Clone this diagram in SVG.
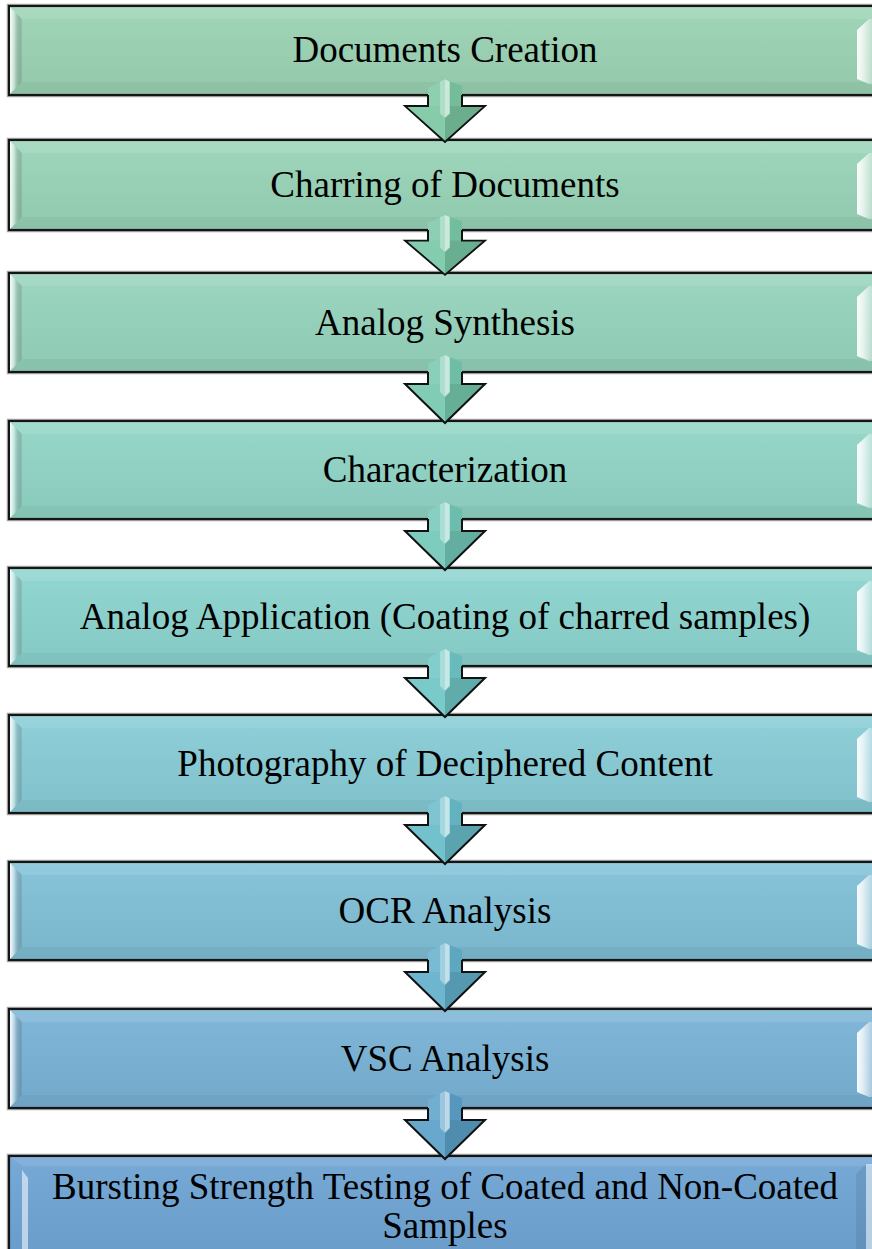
<svg xmlns="http://www.w3.org/2000/svg" xmlns:xlink="http://www.w3.org/1999/xlink" width="872" height="1249" viewBox="0 0 872 1249">
<style>
.box{stroke:#151515;stroke-width:2.2}
.halo{fill:none;stroke:#a8a8a8;stroke-width:4.5}
.shade{fill:url(#gface)}
.bt{fill:#ffffff;fill-opacity:0.1}
.bb{fill:#000000;fill-opacity:0.04}
.bl{fill:url(#gl)}
.br{fill:url(#gr)}
.lbl{font-family:"Liberation Serif","Times New Roman",serif;font-size:37px;fill:#000;text-anchor:middle}
.ol{fill:none;stroke:#111;stroke-width:2;stroke-linejoin:miter}
</style>
<defs>
<linearGradient id="gface" x1="0" y1="0" x2="0" y2="1">
<stop offset="0" stop-color="#fff" stop-opacity="0.06"/>
<stop offset="1" stop-color="#000" stop-opacity="0.05"/>
</linearGradient>
<linearGradient id="gl" x1="0" y1="0" x2="1" y2="0">
<stop offset="0" stop-color="#fff" stop-opacity="0.95"/>
<stop offset="0.35" stop-color="#fff" stop-opacity="0.45"/>
<stop offset="1" stop-color="#000" stop-opacity="0.08"/>
</linearGradient>
<linearGradient id="gr" x1="0" y1="0" x2="1" y2="0">
<stop offset="0" stop-color="#fff" stop-opacity="0.95"/>
<stop offset="0.35" stop-color="#fff" stop-opacity="0.8"/>
<stop offset="1" stop-color="#fff" stop-opacity="0.35"/>
</linearGradient>
<g id="arrow">
<polygon points="428,-8 445,-17 462,-10 462,13 428,13" fill="currentColor"/>
<polygon points="405,12 445,51 485,12" fill="currentColor"/>
<polygon points="428,-8 440,-14.5 440,12 428,12" fill="#fff" fill-opacity="0.14"/>
<polygon points="440,-14.5 445,-17 450,-14.5 450,20 445,25 440,20" fill="#fff" fill-opacity="0.4"/>
<polygon points="445,-17 449,-15 449,20 445,24" fill="#fff" fill-opacity="0.35"/>
<polygon points="450,-14.5 462,-10 462,12 450,12" fill="#000" fill-opacity="0.05"/>
<polygon points="450,12 485,12 445,51 445,25 450,20" fill="#000" fill-opacity="0.13"/>
<polygon points="405,12 440,12 440,20 445,25 445,51" fill="#fff" fill-opacity="0.08"/>
<path class="ol" d="M428,0 V12 H405 L445,51 L485,12 H462 V0"/>
</g>
</defs>
<rect width="872" height="1249" fill="#fff"/>

<g id="n1">
<rect class="halo" x="9" y="6" width="875" height="89"/>
<rect class="box" x="9" y="6" width="875" height="89" fill="#9bd3b4"/>
<rect class="shade" x="10" y="7" width="874" height="87"/>
<polygon class="bt" points="10,7 884,7 884,19 22,19"/>
<polygon class="bb" points="10,94 22,82 884,82 884,94"/>
<polygon class="bl" points="10,7 22,19 22,82 10,94"/>
<polygon class="br" points="857,30 869,19 872,19 872,84 869,84 857,79"/>
<text class="lbl" x="445" y="62">Documents Creation</text>
</g>
<g id="n2">
<rect class="halo" x="9" y="140" width="875" height="90"/>
<rect class="box" x="9" y="140" width="875" height="90" fill="#99d4b8"/>
<rect class="shade" x="10" y="141" width="874" height="88"/>
<polygon class="bt" points="10,141 884,141 884,153 22,153"/>
<polygon class="bb" points="10,229 22,217 884,217 884,229"/>
<polygon class="bl" points="10,141 22,153 22,217 10,229"/>
<polygon class="br" points="857,164 869,153 872,153 872,219 869,219 857,214"/>
<text class="lbl" x="445" y="197">Charring of Documents</text>
</g>
<g id="n3">
<rect class="halo" x="9" y="273" width="875" height="99"/>
<rect class="box" x="9" y="273" width="875" height="99" fill="#96d4bd"/>
<rect class="shade" x="10" y="274" width="874" height="97"/>
<polygon class="bt" points="10,274 884,274 884,286 22,286"/>
<polygon class="bb" points="10,371 22,359 884,359 884,371"/>
<polygon class="bl" points="10,274 22,286 22,359 10,371"/>
<polygon class="br" points="857,297 869,286 872,286 872,361 869,361 857,356"/>
<text class="lbl" x="445" y="335">Analog Synthesis</text>
</g>
<g id="n4">
<rect class="halo" x="9" y="421" width="875" height="98"/>
<rect class="box" x="9" y="421" width="875" height="98" fill="#91d5c6"/>
<rect class="shade" x="10" y="422" width="874" height="96"/>
<polygon class="bt" points="10,422 884,422 884,434 22,434"/>
<polygon class="bb" points="10,518 22,506 884,506 884,518"/>
<polygon class="bl" points="10,422 22,434 22,506 10,518"/>
<polygon class="br" points="857,445 869,434 872,434 872,508 869,508 857,503"/>
<text class="lbl" x="445" y="482">Characterization</text>
</g>
<g id="n5">
<rect class="halo" x="9" y="568" width="875" height="98"/>
<rect class="box" x="9" y="568" width="875" height="98" fill="#8cd4cf"/>
<rect class="shade" x="10" y="569" width="874" height="96"/>
<polygon class="bt" points="10,569 884,569 884,581 22,581"/>
<polygon class="bb" points="10,665 22,653 884,653 884,665"/>
<polygon class="bl" points="10,569 22,581 22,653 10,665"/>
<polygon class="br" points="857,592 869,581 872,581 872,655 869,655 857,650"/>
<text class="lbl" x="445" y="629">Analog Application (Coating of charred samples)</text>
</g>
<g id="n6">
<rect class="halo" x="9" y="715" width="875" height="98"/>
<rect class="box" x="9" y="715" width="875" height="98" fill="#87ccd6"/>
<rect class="shade" x="10" y="716" width="874" height="96"/>
<polygon class="bt" points="10,716 884,716 884,728 22,728"/>
<polygon class="bb" points="10,812 22,800 884,800 884,812"/>
<polygon class="bl" points="10,716 22,728 22,800 10,812"/>
<polygon class="br" points="857,739 869,728 872,728 872,802 869,802 857,797"/>
<text class="lbl" x="445" y="776">Photography of Deciphered Content</text>
</g>
<g id="n7">
<rect class="halo" x="9" y="862" width="875" height="98"/>
<rect class="box" x="9" y="862" width="875" height="98" fill="#80c0d7"/>
<rect class="shade" x="10" y="863" width="874" height="96"/>
<polygon class="bt" points="10,863 884,863 884,875 22,875"/>
<polygon class="bb" points="10,959 22,947 884,947 884,959"/>
<polygon class="bl" points="10,863 22,875 22,947 10,959"/>
<polygon class="br" points="857,886 869,875 872,875 872,949 869,949 857,944"/>
<text class="lbl" x="445" y="923">OCR Analysis</text>
</g>
<g id="n8">
<rect class="halo" x="9" y="1009" width="875" height="99"/>
<rect class="box" x="9" y="1009" width="875" height="99" fill="#79b3d6"/>
<rect class="shade" x="10" y="1010" width="874" height="97"/>
<polygon class="bt" points="10,1010 884,1010 884,1022 22,1022"/>
<polygon class="bb" points="10,1107 22,1095 884,1095 884,1107"/>
<polygon class="bl" points="10,1010 22,1022 22,1095 10,1107"/>
<polygon class="br" points="857,1033 869,1022 872,1022 872,1097 869,1097 857,1092"/>
<text class="lbl" x="445" y="1071">VSC Analysis</text>
</g>
<g id="n9">
<rect class="halo" x="9" y="1156" width="875" height="110"/>
<rect class="box" x="9" y="1156" width="875" height="110" fill="#6ea4d3"/>
<rect class="shade" x="10" y="1157" width="874" height="108"/>
<polygon class="bt" points="10,1157 884,1157 884,1166 22,1166"/>
<polygon points="22,1170 28,1178 28,1262 22,1262" fill="#fff" fill-opacity="0.55"/>
<polygon points="856,1174 866,1164 866,1262 856,1262" fill="#000" fill-opacity="0.08"/>
<polygon points="866,1164 872,1164 872,1262 866,1262" fill="#fff" fill-opacity="0.5"/>
<text class="lbl" x="445" y="1199">Bursting Strength Testing of Coated and Non-Coated</text>
<text class="lbl" x="445" y="1238">Samples</text>
</g>

<g id="connectors">
<use xlink:href="#arrow" href="#arrow" transform="translate(0,95) scale(1,0.92)" color="#7cc7a3"/>
<use xlink:href="#arrow" href="#arrow" transform="translate(0,230) scale(1,0.88)" color="#7ac8a8"/>
<use xlink:href="#arrow" href="#arrow" transform="translate(0,372)" color="#77c8ae"/>
<use xlink:href="#arrow" href="#arrow" transform="translate(0,519)" color="#73c8b9"/>
<use xlink:href="#arrow" href="#arrow" transform="translate(0,666)" color="#6ec6c4"/>
<use xlink:href="#arrow" href="#arrow" transform="translate(0,813)" color="#69bcca"/>
<use xlink:href="#arrow" href="#arrow" transform="translate(0,960)" color="#62b0cb"/>
<use xlink:href="#arrow" href="#arrow" transform="translate(0,1108)" color="#5ba1c8"/>
</g>
</svg>
